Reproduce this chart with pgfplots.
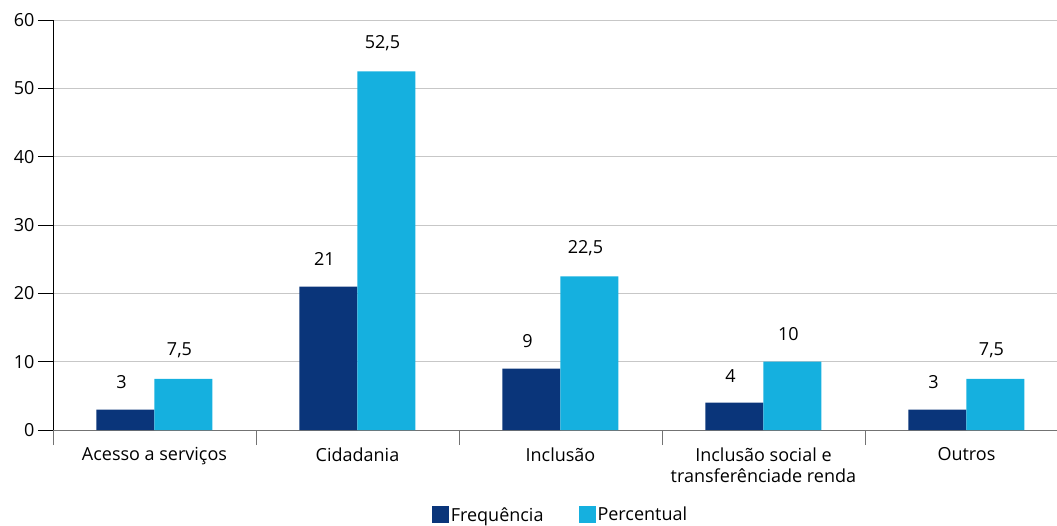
\documentclass[border=0pt]{standalone}
\usepackage{fontspec}
\setmainfont{Open Sans}
\usepackage{pgfplots}
\pgfplotsset{compat=1.18}
\definecolor{dk}{HTML}{0A357A}
\definecolor{lt}{HTML}{15B0DF}
\begin{document}
\begin{tikzpicture}
\useasboundingbox (-53pt,-95pt) rectangle (1004pt,430pt);
\clip (-53pt,-95pt) rectangle (1004pt,430pt);
\begin{axis}[
  at={(0,0)}, anchor=south west,
  scale only axis, width=1015pt, height=410pt,
  font=\fontsize{18}{21}\selectfont,
  /pgf/number format/assume math mode=true,
  /pgf/number format/use comma,
  ybar=0pt, bar width=58pt,
  xmin=-0.5, xmax=4.5, ymin=0, ymax=60,
  ytick={0,10,...,60},
  xtick={0,...,4},
  xticklabels={Acesso a serviços, Cidadania, Inclusão, {Inclusão social e\\transferênciade renda}, Outros},
  xticklabel style={align=center, yshift=1pt},
  minor xtick={-0.5,0.5,1.5,2.5,3.5},
  axis x line*=bottom, axis y line*=left,
  axis line style={-},
  x axis line style={black!55, line width=0.9pt},
  y axis line style={black, line width=0.8pt},
  tick align=outside,
  major tick length=15pt, minor tick length=15pt,
  every major x tick/.append style={draw=none},
  every minor x tick/.append style={black!55, line width=0.8pt},
  every major y tick/.append style={black, line width=0.8pt},
  ymajorgrids, major grid style={black!22, line width=0.6pt},
  nodes near coords,
  every node near coord/.append style={font=\fontsize{18}{21}\selectfont, yshift=17pt, xshift=-4pt, black},
  legend columns=2,
  legend style={draw=none, at={(0.5,-0.207)}, anchor=center, font=\fontsize{18}{21}\selectfont,
    /tikz/every even column/.append style={column sep=33pt}},
  legend image code/.code={\fill[#1] (0pt,-8pt) rectangle (17pt,9pt);},
]
\addplot[fill=dk, draw=none] coordinates {(0,3) (1,21) (2,9) (3,4) (4,3)};
\addplot[fill=lt, draw=none] coordinates {(0,7.5) (1,52.5) (2,22.5) (3,10) (4,7.5)};
\legend{Frequência, Percentual}
\end{axis}
\end{tikzpicture}
\end{document}
